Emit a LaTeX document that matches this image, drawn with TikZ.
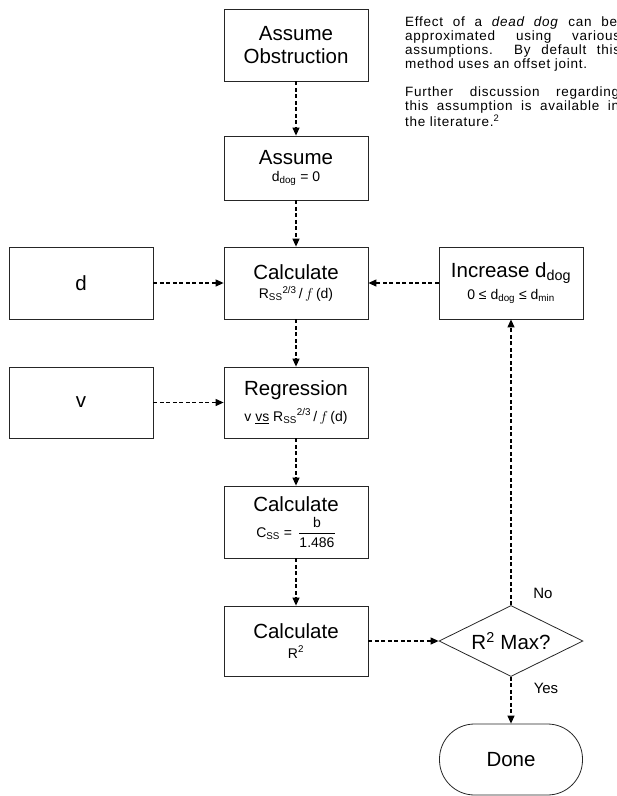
\documentclass[tikz,border=0pt]{standalone}
\usepackage{amsmath}
\usepackage{fontspec}
\setmainfont{Liberation Sans}
\newfontfamily\notefont[LetterSpace=5.5]{Liberation Sans}
\usepackage{tikz}
\usetikzlibrary{arrows.meta}
\usetikzlibrary{shapes.geometric}

\newcommand{\ttl}{\fontsize{20.5}{23.5}\selectfont}
\newcommand{\sbt}{\fontsize{14}{16}\selectfont}

\tikzset{
    box/.style={draw=black!85, line width=0.8, minimum width=144, minimum height=72,
                inner sep=0, align=center, font=\ttl},
    decision/.style={draw=black!85, line width=0.8, diamond, aspect=2, inner sep=0,
                minimum width=144, minimum height=71, font=\ttl},
    term/.style={draw=black!85, line width=0.8, minimum width=143, minimum height=71,
                rounded corners=35, inner sep=0, font=\ttl},
    flow/.style={line width=1.2, dash pattern=on 4pt off 2.5pt, -{Triangle[length=8pt, width=7pt]}},
    lbl/.style={font=\fontsize{15}{17}\selectfont, inner sep=0},
}

\begin{document}
\begin{tikzpicture}[x=1pt, y=-1pt]
    \clip (0,0) rectangle (617,796);

    % centre column
    \node[box] (obstr) at (296,45) {Assume\\Obstruction};
    \node[box, minimum height=64] (assume) at (296,168)
        {Assume\\[-6pt]{\sbt d\textsubscript{dog} = 0}};
    \node[box] (calcR) at (296,283)
        {Calculate\\[-5pt]{\sbt R\textsubscript{SS}\textsuperscript{2/3}\,/\,$f$\,(d)}};
    \node[box, minimum height=71] (regr) at (296,402.5)
        {Regression\\[2pt]{\sbt v \underline{vs} R\textsubscript{SS}\textsuperscript{2/3}\,/\,$f$\,(d)}};
    \node[box] (calcC) at (296,522)
        {Calculate\\[2pt]{\sbt C\textsubscript{SS} = \,$\dfrac{\text{\sbt b}}{\text{\sbt 1.486}}$}};
    \node[box, minimum height=70] (calcRsq) at (296,641)
        {Calculate\\[-4pt]{\sbt R\textsuperscript{2}}};

    % inputs
    \node[box] (dIn) at (81,283) {d};
    \node[box, minimum height=71] (vIn) at (81,402.5) {v};

    % loop
    \node[box] (incr) at (511,283)
        {Increase d\textsubscript{dog}\\[-2pt]{\sbt 0 ≤ d\textsubscript{dog} ≤ d\textsubscript{min}}};
    \node[decision] (rmax) at (511,641) {R\textsuperscript{2} Max?};
    \node[term] (done) at (511,759.5) {Done};

    \node[lbl] (no) at (543,593) {No};
    \node[lbl] (yes) at (546,688) {Yes};

    % note (clipped at the right edge, as printed)
    \node[anchor=north west, inner sep=0, align=left,
          font=\notefont\fontsize{13.5}{14}\selectfont] (note) at (405,17)
        {\makebox[212pt][s]{Effect of a \textit{dead dog} can be}\\
         \makebox[215pt][s]{approximated using various}\\
         \makebox[215pt][s]{assumptions.\ \ By default this}\\
         method uses an offset joint.\\[14pt]
         \makebox[214pt][s]{Further discussion regarding}\\
         \makebox[214pt][s]{this assumption is available in}\\
         the literature.\textsuperscript{2}};

    % connectors
    \draw[flow] (obstr) -- (assume);
    \draw[flow] (assume) -- (calcR);
    \draw[flow] (dIn) -- (calcR);
    \draw[flow] (incr) -- (calcR);
    \draw[flow] (calcR) -- (regr);
    \draw[flow] (vIn) -- (regr);
    \draw[flow] (regr) -- (calcC);
    \draw[flow] (calcC) -- (calcRsq);
    \draw[flow] (calcRsq) -- (rmax);
    \draw[flow] (rmax) -- (incr);
    \draw[flow] (rmax) -- (done);
\end{tikzpicture}
\end{document}
